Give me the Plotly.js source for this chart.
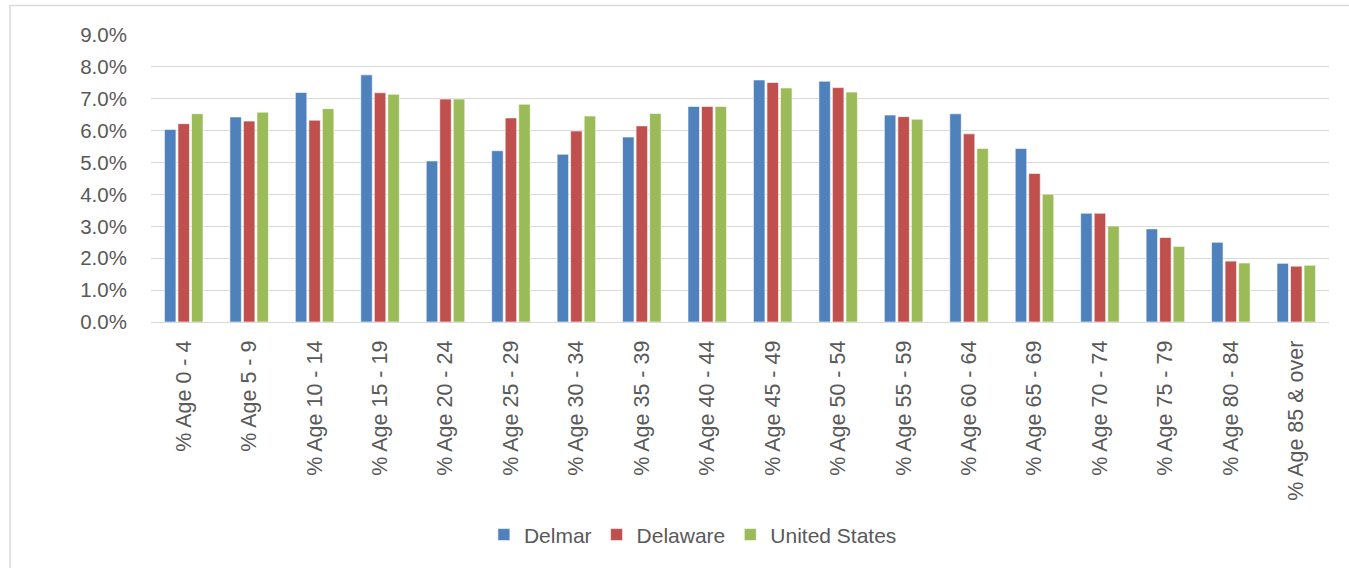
<!DOCTYPE html>
<html>
<head>
<meta charset="utf-8">
<script src="https://cdn.plot.ly/plotly-3.0.1.min.js"></script>
<style>
html,body{margin:0;padding:0;background:#fff;}
#chart{width:1349px;height:568px;}
</style>
</head>
<body>
<div id="chart"></div>
<script>
var categories = ["% Age 0 - 4","% Age 5 - 9","% Age 10 - 14","% Age 15 - 19","% Age 20 - 24","% Age 25 - 29","% Age 30 - 34","% Age 35 - 39","% Age 40 - 44","% Age 45 - 49","% Age 50 - 54","% Age 55 - 59","% Age 60 - 64","% Age 65 - 69","% Age 70 - 74","% Age 75 - 79","% Age 80 - 84","% Age 85 & over"];
var delmar   = [6.04, 6.43, 7.20, 7.75, 5.05, 5.37, 5.26, 5.80, 6.76, 7.59, 7.55, 6.49, 6.53, 5.44, 3.41, 2.92, 2.50, 1.84];
var delaware = [6.22, 6.30, 6.33, 7.19, 6.99, 6.40, 5.99, 6.15, 6.76, 7.51, 7.35, 6.44, 5.90, 4.66, 3.41, 2.65, 1.91, 1.75];
var unitedStates = [6.53, 6.58, 6.69, 7.14, 6.99, 6.83, 6.46, 6.54, 6.76, 7.34, 7.21, 6.36, 5.44, 4.01, 3.01, 2.37, 1.85, 1.78];
var seriesNames = ["Delmar", "Delaware", "United States"];
var yTickVals = [0,1,2,3,4,5,6,7,8,9];
var yTickText = ["0.0%","1.0%","2.0%","3.0%","4.0%","5.0%","6.0%","7.0%","8.0%","9.0%"];

var colors = ["#4F81BD", "#C0504D", "#9BBB59"];
var seriesData = [delmar, delaware, unitedStates];
var traces = seriesData.map(function(vals, i){
  return {
    type: 'bar',
    name: seriesNames[i],
    x: categories,
    y: vals,
    marker: {color: colors[i], line: {color: 'rgba(255,255,255,0.6)', width: 1}},
    hoverinfo: 'x+y+name'
  };
});

var font = "Liberation Sans, Arial, sans-serif";
var layout = {
  width: 1349, height: 568,
  margin: {l: 151, r: 20, t: 35, b: 246},
  paper_bgcolor: '#fff', plot_bgcolor: '#fff',
  barmode: 'group',
  bargap: 0.38,
  bargroupgap: 0.15,
  font: {family: font, size: 20, color: '#595959'},
  showlegend: true,
  legend: {
    orientation: 'h', x: 0.46, xanchor: 'center', y: -0.742, yanchor: 'middle',
    font: {family: font, size: 21, color: '#595959'},
    itemwidth: 30, traceorder: 'normal'
  },
  xaxis: {
    type: 'category',
    tickangle: -90,
    showgrid: false,
    showline: true, linecolor: '#d9d9d9', linewidth: 1,
    ticks: 'outside', ticklen: 9, tickcolor: 'rgba(0,0,0,0)',
    tickfont: {family: font, size: 21.5, color: '#595959'},
    zeroline: false
  },
  yaxis: {
    range: [0, 9],
    tickvals: yTickVals,
    ticktext: yTickText,
    showgrid: true, gridcolor: '#d9d9d9', gridwidth: 1,
    zeroline: false,
    showline: false,
    ticks: 'outside', ticklen: 19, tickcolor: 'rgba(0,0,0,0)',
    tickfont: {family: font, size: 20.5, color: '#595959'}
  },
  shapes: [
    {type: 'rect', xref: 'paper', yref: 'paper', x0: -0.1197, x1: 1.2, y0: -1.2, y1: 1.1028,
     line: {color: '#d9d9d9', width: 1.5}, fillcolor: 'rgba(0,0,0,0)', layer: 'below'}
  ]
};

Plotly.newPlot('chart', traces, layout, {displayModeBar: false, responsive: false});
</script>
</body>
</html>
